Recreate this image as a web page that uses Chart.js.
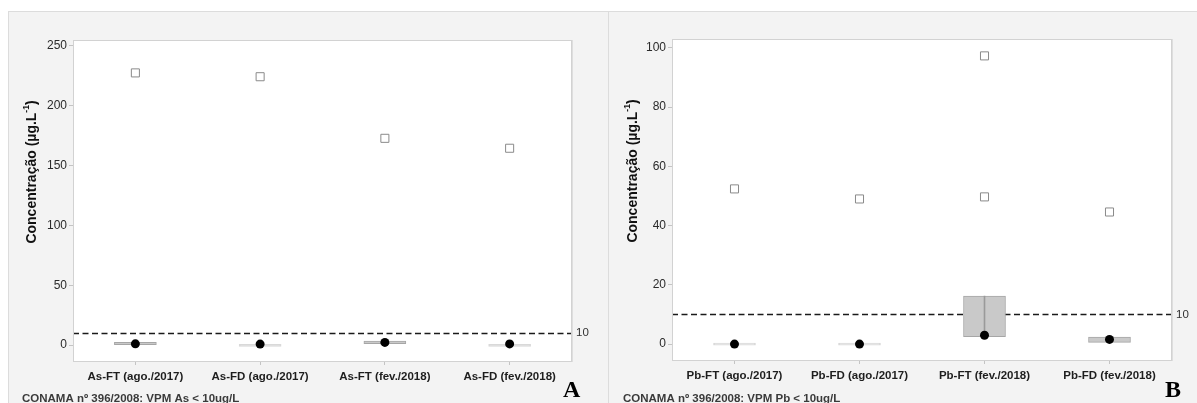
<!DOCTYPE html>
<html>
<head>
<meta charset="utf-8">
<script src="https://cdn.jsdelivr.net/npm/chart.js@4.4.0/dist/chart.umd.min.js"></script>
<style>
  html, body { margin: 0; padding: 0; background: #fff; }
  #page { position: relative; width: 1197px; height: 403px; overflow: hidden; }
  #panel { position: absolute; left: 8px; top: 11px; width: 1189px; height: 392px; background: #f3f3f3;
           border-top: 1px solid #dcdcdc; border-left: 1px solid #dcdcdc; box-sizing: border-box; }
  #sep { position: absolute; left: 608px; top: 11px; width: 1px; height: 392px; background: #dcdcdc; }
  .wrap { position: absolute; top: 11px; height: 392px; }
  #wA { left: 8px; width: 600px; }
  #wB { left: 609px; width: 588px; }
</style>
</head>
<body>
<div id="page">
  <div id="panel"></div>
  <div id="sep"></div>
  <div class="wrap" id="wA"><canvas id="cA" width="600" height="392"></canvas></div>
  <div class="wrap" id="wB"><canvas id="cB" width="588" height="392"></canvas></div>
</div>
<script>
// Arsenic (As) — total (FT) and dissolved (FD) fractions
const catsAs = ['As-FT (ago./2017)', 'As-FD (ago./2017)', 'As-FT (fev./2018)', 'As-FD (fev./2018)'];
const asQ1 = [0.2, 0.5, 1.2, 0.6];
const asQ3 = [2.3, 0.5, 3.3, 0.6];
const asMedian = [1.0, 0.8, 2.2, 0.9];
const asOutliers = [227.5, 224.3, 172.8, 164.5];
const asOutlierCat = [0, 1, 2, 3];
const asTicks = [0, 50, 100, 150, 200, 250];
const asLimit = 10;

// Lead (Pb) — total (FT) and dissolved (FD) fractions
const catsPb = ['Pb-FT (ago./2017)', 'Pb-FD (ago./2017)', 'Pb-FT (fev./2018)', 'Pb-FD (fev./2018)'];
const pbQ1 = [0, 0, 2.5, 0.6];
const pbQ3 = [0, 0, 16.2, 2.4];
const pbMedian = [0, 0, 3.0, 1.6];
const pbOutliers = [52.4, 49.0, 97.3, 49.7, 44.6];
const pbOutlierCat = [0, 1, 2, 2, 3];
const pbTicks = [0, 20, 40, 60, 80, 100];
const pbLimit = 10;

const FONT = '"Liberation Sans", Arial, sans-serif';

function panelPlugin(o) {
  return {
    id: 'panelDecor',
    beforeDraw(chart) {
      const { ctx, chartArea: a } = chart;
      ctx.save();
      ctx.fillStyle = '#ffffff';
      ctx.fillRect(a.left, a.top, a.right - a.left, a.bottom - a.top);
      ctx.restore();
    },
    beforeDatasetsDraw(chart) {
      const { ctx, chartArea: a, scales } = chart;
      const y = Math.round(scales.y.getPixelForValue(o.limit)) + 0.5;
      ctx.save();
      ctx.strokeStyle = '#1a1a1a';
      ctx.lineWidth = 1.6;
      ctx.setLineDash([6, 3.5]);
      ctx.beginPath();
      ctx.moveTo(a.left, y);
      ctx.lineTo(a.right, y);
      ctx.stroke();
      ctx.restore();
    },
    afterDraw(chart) {
      const { ctx, chartArea: a, scales } = chart;
      ctx.save();
      // plot frame
      ctx.strokeStyle = '#d2d2d2';
      ctx.lineWidth = 1;
      ctx.strokeRect(a.left + 0.5, a.top + 0.5, a.right - a.left - 1, a.bottom - a.top - 1);
      ctx.strokeStyle = '#dedede';
      ctx.beginPath();
      ctx.moveTo(a.right + 0.5, a.top);
      ctx.lineTo(a.right + 0.5, a.bottom);
      ctx.stroke();
      // limit value label
      ctx.fillStyle = '#333';
      ctx.font = '11.5px ' + FONT;
      ctx.textAlign = 'left';
      ctx.textBaseline = 'middle';
      ctx.fillText(String(o.limit), a.right + 4, scales.y.getPixelForValue(o.limit));
      // y axis title with superscript
      ctx.translate(o.titleX, o.titleY);
      ctx.rotate(-Math.PI / 2);
      const main = 'Concentração (µg.L';
      const sup = '-1';
      const tail = ')';
      const fMain = 'bold 14px ' + FONT;
      const fSup = 'bold 8.5px ' + FONT;
      ctx.font = fMain;
      const w1 = ctx.measureText(main).width;
      const w3 = ctx.measureText(tail).width;
      ctx.font = fSup;
      const w2 = ctx.measureText(sup).width;
      let x = -(w1 + w2 + w3) / 2;
      ctx.fillStyle = '#111';
      ctx.textAlign = 'left';
      ctx.textBaseline = 'middle';
      ctx.font = fMain;
      ctx.fillText(main, x, 0);
      x += w1;
      ctx.font = fSup;
      ctx.fillText(sup, x, -5.5);
      x += w2;
      ctx.font = fMain;
      ctx.fillText(tail, x, 0);
      ctx.restore();
      // footnote
      ctx.save();
      ctx.fillStyle = '#3a3a3a';
      ctx.font = 'bold 11.5px ' + FONT;
      ctx.textAlign = 'left';
      ctx.textBaseline = 'middle';
      ctx.fillText(o.note, 14, 387.5);
      // panel letter
      ctx.fillStyle = '#000';
      ctx.font = 'bold 24px "Liberation Serif", "Times New Roman", serif';
      ctx.textBaseline = 'alphabetic';
      ctx.fillText(o.letter, o.letterX, 386);
      ctx.restore();
    }
  };
}

function boxColor(q1, q3) {
  return (ctx) => {
    const i = ctx.dataIndex;
    return Math.abs(q3[i] - q1[i]) < 0.01 ? '#d9d9d9' : '#c9c9c9';
  };
}
function boxBorder(q1, q3) {
  return (ctx) => {
    const i = ctx.dataIndex;
    return Math.abs(q3[i] - q1[i]) < 0.01 ? '#d9d9d9' : '#a6a6a6';
  };
}

function makeChart(id, o) {
  const boxes = o.q1.map((v, i) => [v, o.q3[i]]);
  const outliers = o.outCat.map((c, i) => ({ x: o.cats[c], y: o.out[i] }));
  return new Chart(document.getElementById(id), {
    type: 'bar',
    data: {
      labels: o.cats,
      datasets: [
        {
          type: 'bar', data: boxes, grouped: false, order: 4,
          barThickness: 42, minBarLength: 2, borderWidth: 1, borderSkipped: false,
          backgroundColor: boxColor(o.q1, o.q3), borderColor: boxBorder(o.q1, o.q3)
        },
        {
          type: 'bar', data: boxes, grouped: false, order: 3,
          barThickness: 1, borderWidth: 0, backgroundColor: '#9a9a9a'
        },
        {
          type: 'line', data: outliers, showLine: false, order: 2,
          pointStyle: 'rect', pointRadius: 5.7, pointBorderWidth: 1,
          pointBackgroundColor: '#ffffff', pointBorderColor: '#8a8a8a'
        },
        {
          type: 'line', data: o.median, showLine: false, order: 1,
          pointStyle: 'circle', pointRadius: 4.5, pointBorderWidth: 0,
          pointBackgroundColor: '#000', pointBorderColor: '#000'
        }
      ]
    },
    options: {
      responsive: false,
      animation: false,
      devicePixelRatio: 1,
      layout: { padding: { left: 0, top: o.padTop, right: o.padRight, bottom: 0 } },
      plugins: { legend: { display: false }, tooltip: { enabled: false } },
      scales: {
        x: {
          type: 'category', offset: true,
          grid: { display: true, offset: false, drawOnChartArea: false, drawTicks: true, tickLength: 3, color: '#c4c4c4' },
          border: { display: false },
          ticks: { font: { family: FONT, size: 11.5, weight: 'bold' }, color: '#1e1e1e', padding: 5, maxRotation: 0, autoSkip: false },
          afterFit(s) { s.height = o.xh; }
        },
        y: {
          type: 'linear', min: o.min, max: o.max,
          afterBuildTicks(s) { s.ticks = o.ticks.map(v => ({ value: v })); },
          grid: { drawOnChartArea: false, drawTicks: true, tickLength: 4, color: '#c4c4c4' },
          border: { display: false },
          ticks: { font: { family: FONT, size: 12 }, color: '#2a2a2a', padding: 2 },
          afterFit(s) { s.width = o.yw; }
        }
      }
    },
    plugins: [panelPlugin(o)]
  });
}

makeChart('cA', {
  cats: catsAs, q1: asQ1, q3: asQ3, median: asMedian, out: asOutliers, outCat: asOutlierCat,
  ticks: asTicks, limit: asLimit, min: -14.2, max: 255,
  padTop: 29, padRight: 36, yw: 65, xh: 41,
  titleX: 24, titleY: 161, note: 'CONAMA nº 396/2008: VPM As < 10ug/L', letter: 'A', letterX: 555
});

makeChart('cB', {
  cats: catsPb, q1: pbQ1, q3: pbQ3, median: pbMedian, out: pbOutliers, outCat: pbOutlierCat,
  ticks: pbTicks, limit: pbLimit, min: -5.7, max: 103,
  padTop: 28, padRight: 25, yw: 63, xh: 42,
  titleX: 24, titleY: 160, note: 'CONAMA nº 396/2008: VPM Pb < 10ug/L', letter: 'B', letterX: 556
});
</script>
</body>
</html>
